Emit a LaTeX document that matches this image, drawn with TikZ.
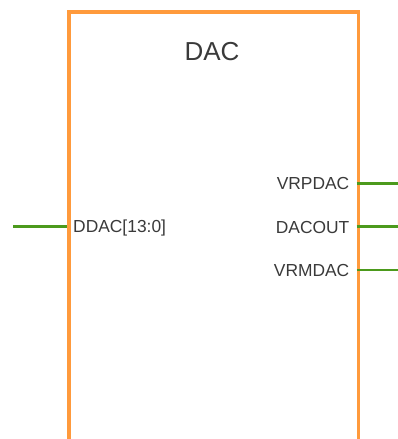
\documentclass[tikz,border=0pt]{standalone}
\usepackage{fontspec}
\setmainfont{Liberation Sans}
\definecolor{boxorange}{HTML}{FF9A3C}
\definecolor{pingreen}{HTML}{4C9A1C}
\definecolor{txtgray}{HTML}{3A3A3A}
\begin{document}
\begin{tikzpicture}[x=1pt,y=-1pt,
  blockbox/.style={draw=boxorange,line width=3.6pt,inner sep=0pt,anchor=north west},
  pinline/.style={draw=pingreen,line width=2.6pt},
  pinlabel/.style={text=txtgray,font=\fontsize{17.4}{20}\selectfont,inner sep=0pt},
  titlelabel/.style={text=txtgray,font=\fontsize{26}{30}\selectfont,inner sep=0pt}]
\useasboundingbox (0,0) rectangle (398,439);
\clip (0,0) rectangle (398,439);
\node[blockbox,minimum width=289.5pt,minimum height=480pt] (dac) at (67.2,10) {};
\node[titlelabel] (title) at (212,52) {DAC};
% left pin
\coordinate (ddacend) at (13,226.7);
\coordinate (ddacpin) at (67.2,226.7);
\node[pinlabel,anchor=west] (ddac) at (73,227.5) {DDAC[13:0]};
\draw[pinline] (ddacend) -- (ddacpin);
% right pins
\coordinate (vrpin) at (356.7,183.3);
\coordinate (vrend) at (398,183.3);
\coordinate (dopin) at (356.7,226.7);
\coordinate (doend) at (398,226.7);
\coordinate (vmpin) at (356.7,269.8);
\coordinate (vmend) at (398,269.8);
\node[pinlabel,anchor=east] (vrpdac) at (349.5,184) {VRPDAC};
\node[pinlabel,anchor=east] (dacout) at (349.5,227.5) {DACOUT};
\node[pinlabel,anchor=east] (vrmdac) at (349.5,271) {VRMDAC};
\draw[pinline] (vrpin) -- (vrend);
\draw[pinline] (dopin) -- (doend);
\draw[pinline] (vmpin) -- (vmend);
\end{tikzpicture}
\end{document}
